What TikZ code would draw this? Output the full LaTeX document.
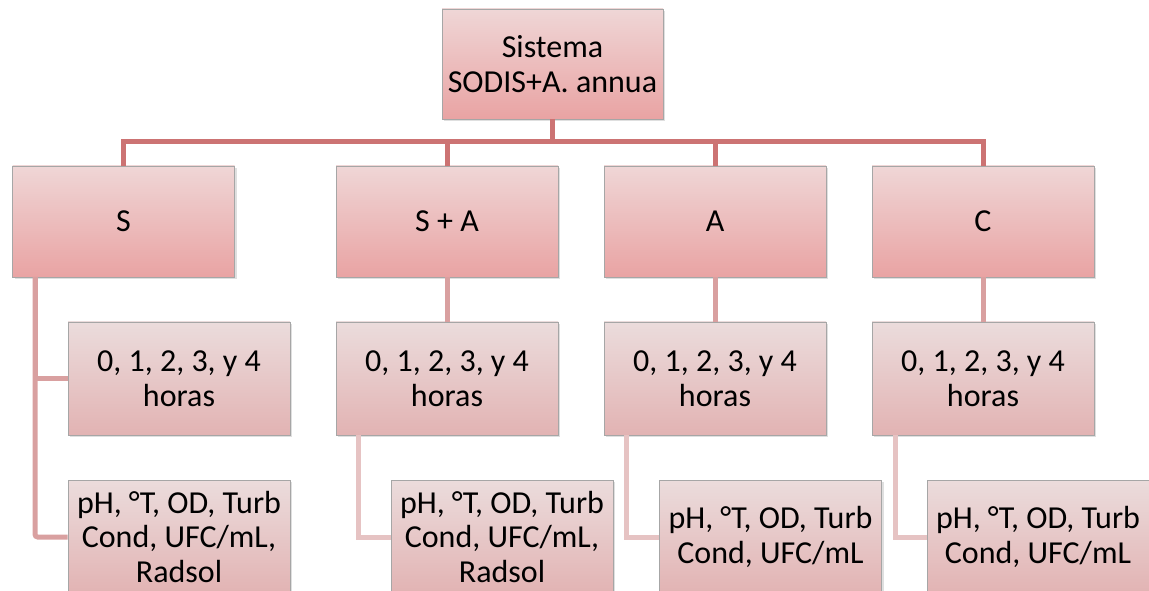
\documentclass[tikz,border=0pt]{standalone}
\usepackage{fontspec}
\setmainfont{Carlito}
\usetikzlibrary{shadows}
\definecolor{barc}{HTML}{CC7373}
\definecolor{midc}{HTML}{D9A0A0}
\definecolor{lowc}{HTML}{E6C3C3}
\definecolor{topA}{HTML}{EFD6D6}
\definecolor{topB}{HTML}{E9A3A3}
\definecolor{lowA}{HTML}{EBDCDC}
\definecolor{lowB}{HTML}{E2B3B3}
\tikzset{
  boxbase/.style={draw=black!35, line width=0.5pt, inner sep=0pt, align=center,
    font=\fontsize{24}{26}\selectfont,
    drop shadow={opacity=0.25, shadow xshift=1.5pt, shadow yshift=-1.5pt}},
  upbox/.style={boxbase, top color=topA, bottom color=topB,
    minimum width=166.5pt, minimum height=83.25pt},
  lowbox/.style={boxbase, top color=lowA, bottom color=lowB,
    minimum width=166.5pt, minimum height=84.75pt},
  botbox/.style={boxbase, top color=lowA, bottom color=lowB,
    minimum width=166.5pt, minimum height=85.5pt},
  barline/.style={draw=barc, line width=3.75pt},
  midline/.style={draw=midc, line width=3.75pt},
  lowline/.style={draw=lowc, line width=3.75pt},
}
\begin{document}
\begin{tikzpicture}[x=0.75pt,y=-0.75pt]
\useasboundingbox (0,0) rectangle (1149,591);
\clip (0,0) rectangle (1149,591);
\coordinate (bar) at (552.5,142);
\coordinate (sx) at (35,277);
\coordinate (sax) at (358,435);
\coordinate (ax) at (626,435);
\coordinate (cx) at (895,435);
\path (552.5,64) node[upbox, minimum width=165.75pt, minimum height=82.5pt] (top) {Sistema\\SODIS+A. annua};
\path (123.5,221.5) node[upbox] (s) {S};
\path (447,221.5) node[upbox] (sa) {S + A};
\path (715,221.5) node[upbox] (a) {A};
\path (983,221.5) node[upbox] (c) {C};
\path (179,378.5) node[lowbox] (s3) {0, 1, 2, 3, y 4\\horas};
\path (447,378.5) node[lowbox] (sa3) {0, 1, 2, 3, y 4\\horas};
\path (715,378.5) node[lowbox] (a3) {0, 1, 2, 3, y 4\\horas};
\path (983,378.5) node[lowbox] (c3) {0, 1, 2, 3, y 4\\horas};
\path (179,537) node[botbox] (s4) {pH, °T, OD, Turb\\Cond, UFC/mL,\\Radsol};
\path (502,537) node[botbox] (sa4) {pH, °T, OD, Turb\\Cond, UFC/mL,\\Radsol};
\path (770.5,537) node[botbox] (a4) {pH, °T, OD, Turb\\Cond, UFC/mL};
\path (1038,537) node[botbox] (c4) {pH, °T, OD, Turb\\Cond, UFC/mL};
% connectors
\draw[barline] (top.south) -- (bar);
\draw[barline] (s.north) |- (bar) -| (c.north);
\draw[barline] (sa.north) -- (sa.north |- bar);
\draw[barline] (a.north) -- (a.north |- bar);
\draw[midline] (sx) |- (s3.west);
\draw[midline, rounded corners=2pt] (sx) |- (s4.west);
\draw[midline] (sa.south) -- (sa3.north);
\draw[midline] (a.south) -- (a3.north);
\draw[midline] (c.south) -- (c3.north);
\draw[lowline] (sax) |- (sa4.west);
\draw[lowline] (ax) |- (a4.west);
\draw[lowline] (cx) |- (c4.west);
\end{tikzpicture}
\end{document}
